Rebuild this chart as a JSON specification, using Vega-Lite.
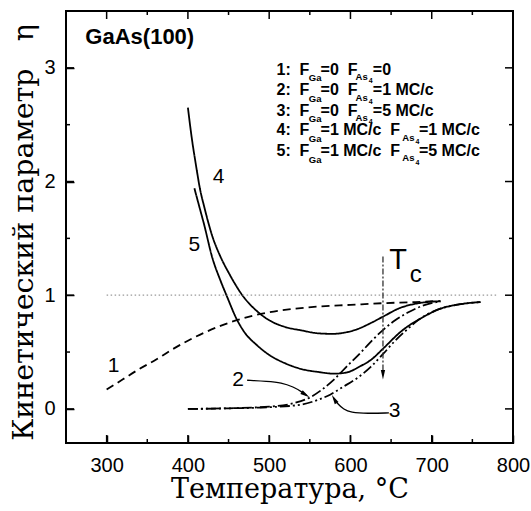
{
  "$schema": "https://vega.github.io/schema/vega-lite/v6.json",
  "autosize": {"type": "none"},
  "width": 447,
  "height": 432,
  "padding": {"left": 66, "top": 11, "right": 18, "bottom": 68},
  "background": "white",
  "config": {
    "view": {"stroke": "black", "strokeWidth": 2},
    "tick": {"color": "black", "thickness": 1.5, "opacity": 1},
    "axis": {
      "domain": false,
      "grid": false,
      "ticks": true,
      "tickSize": -8,
      "tickColor": "black",
      "tickWidth": 1.5,
      "labelFont": "Liberation Sans",
      "labelFontSize": 20,
      "labelColor": "black",
      "labelOverlap": false,
      "labelFlush": false,
      "titleFont": "DejaVu Serif",
      "titleFontSize": 28.5,
      "titleFontWeight": "normal",
      "titleColor": "black"
    }
  },
  "datasets": {
    "xmaj": [{"v": 300}, {"v": 400}, {"v": 500}, {"v": 600}, {"v": 700}],
    "xmin": [{"v": 350}, {"v": 450}, {"v": 550}, {"v": 650}, {"v": 750}],
    "ymaj": [{"v": 0}, {"v": 1}, {"v": 2}, {"v": 3}],
    "ymin": [{"v": 0.5}, {"v": 1.5}, {"v": 2.5}],
    "curves": [
      {"T": 300, "eta": 0.17, "c": "1"}, {"T": 320, "eta": 0.26, "c": "1"}, {"T": 340, "eta": 0.35, "c": "1"}, {"T": 360, "eta": 0.43, "c": "1"}, {"T": 380, "eta": 0.52, "c": "1"}, {"T": 400, "eta": 0.6, "c": "1"}, {"T": 420, "eta": 0.67, "c": "1"}, {"T": 440, "eta": 0.73, "c": "1"}, {"T": 460, "eta": 0.78, "c": "1"}, {"T": 480, "eta": 0.82, "c": "1"}, {"T": 500, "eta": 0.85, "c": "1"}, {"T": 530, "eta": 0.88, "c": "1"}, {"T": 560, "eta": 0.9, "c": "1"}, {"T": 600, "eta": 0.915, "c": "1"}, {"T": 640, "eta": 0.93, "c": "1"}, {"T": 680, "eta": 0.94, "c": "1"}, {"T": 710, "eta": 0.95, "c": "1"},
      {"T": 400, "eta": 0.0, "c": "2"}, {"T": 450, "eta": 0.005, "c": "2"}, {"T": 500, "eta": 0.02, "c": "2"}, {"T": 530, "eta": 0.05, "c": "2"}, {"T": 550, "eta": 0.1, "c": "2"}, {"T": 565, "eta": 0.17, "c": "2"}, {"T": 580, "eta": 0.26, "c": "2"}, {"T": 595, "eta": 0.37, "c": "2"}, {"T": 612, "eta": 0.49, "c": "2"}, {"T": 625, "eta": 0.59, "c": "2"}, {"T": 641, "eta": 0.7, "c": "2"}, {"T": 655, "eta": 0.78, "c": "2"}, {"T": 670, "eta": 0.845, "c": "2"}, {"T": 690, "eta": 0.91, "c": "2"}, {"T": 711, "eta": 0.946, "c": "2"},
      {"T": 400, "eta": 0.0, "c": "3"}, {"T": 450, "eta": 0.005, "c": "3"}, {"T": 500, "eta": 0.015, "c": "3"}, {"T": 540, "eta": 0.038, "c": "3"}, {"T": 560, "eta": 0.08, "c": "3"}, {"T": 575, "eta": 0.125, "c": "3"}, {"T": 590, "eta": 0.19, "c": "3"}, {"T": 608, "eta": 0.27, "c": "3"}, {"T": 625, "eta": 0.37, "c": "3"}, {"T": 641, "eta": 0.49, "c": "3"}, {"T": 655, "eta": 0.6, "c": "3"}, {"T": 670, "eta": 0.7, "c": "3"}, {"T": 685, "eta": 0.79, "c": "3"}, {"T": 703, "eta": 0.86, "c": "3"}, {"T": 720, "eta": 0.9, "c": "3"}, {"T": 740, "eta": 0.925, "c": "3"}, {"T": 760, "eta": 0.94, "c": "3"},
      {"T": 400, "eta": 2.65, "c": "4"}, {"T": 405, "eta": 2.37, "c": "4"}, {"T": 410, "eta": 2.14, "c": "4"}, {"T": 415, "eta": 1.93, "c": "4"}, {"T": 420, "eta": 1.78, "c": "4"}, {"T": 430, "eta": 1.52, "c": "4"}, {"T": 440, "eta": 1.34, "c": "4"}, {"T": 450, "eta": 1.2, "c": "4"}, {"T": 468, "eta": 0.99, "c": "4"}, {"T": 485, "eta": 0.86, "c": "4"}, {"T": 500, "eta": 0.78, "c": "4"}, {"T": 520, "eta": 0.72, "c": "4"}, {"T": 540, "eta": 0.69, "c": "4"}, {"T": 560, "eta": 0.665, "c": "4"}, {"T": 578, "eta": 0.66, "c": "4"}, {"T": 592, "eta": 0.67, "c": "4"}, {"T": 608, "eta": 0.7, "c": "4"}, {"T": 625, "eta": 0.755, "c": "4"}, {"T": 641, "eta": 0.815, "c": "4"}, {"T": 660, "eta": 0.885, "c": "4"}, {"T": 680, "eta": 0.925, "c": "4"}, {"T": 698, "eta": 0.942, "c": "4"}, {"T": 711, "eta": 0.947, "c": "4"},
      {"T": 408, "eta": 1.94, "c": "5"}, {"T": 414, "eta": 1.78, "c": "5"}, {"T": 420, "eta": 1.62, "c": "5"}, {"T": 430, "eta": 1.33, "c": "5"}, {"T": 440, "eta": 1.13, "c": "5"}, {"T": 448, "eta": 0.99, "c": "5"}, {"T": 460, "eta": 0.79, "c": "5"}, {"T": 470, "eta": 0.67, "c": "5"}, {"T": 485, "eta": 0.56, "c": "5"}, {"T": 500, "eta": 0.475, "c": "5"}, {"T": 520, "eta": 0.4, "c": "5"}, {"T": 540, "eta": 0.35, "c": "5"}, {"T": 560, "eta": 0.325, "c": "5"}, {"T": 580, "eta": 0.31, "c": "5"}, {"T": 595, "eta": 0.32, "c": "5"}, {"T": 612, "eta": 0.375, "c": "5"}, {"T": 625, "eta": 0.43, "c": "5"}, {"T": 641, "eta": 0.536, "c": "5"}, {"T": 662, "eta": 0.68, "c": "5"}, {"T": 690, "eta": 0.81, "c": "5"}, {"T": 710, "eta": 0.88, "c": "5"}, {"T": 730, "eta": 0.915, "c": "5"}, {"T": 760, "eta": 0.94, "c": "5"}
    ],
    "tc": [{"x": 640, "y": 1.34}, {"x": 640, "y": 0.32}],
    "arrows": [
      {"x": 472.9, "y": 0.252, "a": "2"}, {"x": 497.5, "y": 0.243, "a": "2"}, {"x": 515, "y": 0.232, "a": "2"}, {"x": 530, "y": 0.193, "a": "2"}, {"x": 540, "y": 0.15, "a": "2"}, {"x": 546, "y": 0.12, "a": "2"},
      {"x": 647.3, "y": -0.035, "a": "3"}, {"x": 620.7, "y": -0.041, "a": "3"}, {"x": 600, "y": -0.03, "a": "3"}, {"x": 591.9, "y": -0.006, "a": "3"}, {"x": 584, "y": 0.045, "a": "3"}, {"x": 579.5, "y": 0.095, "a": "3"}
    ],
    "heads": [
      {"x": 640, "y": 0.3, "ang": 180},
      {"x": 544.7, "y": 0.125, "ang": 123},
      {"x": 580.1, "y": 0.087, "ang": 330}
    ],
    "leg": [
      {"x": 509, "y": 2.984, "t": "1:\u00a0\u00a0F"}, {"x": 563.2, "y": 2.984, "t": "=0\u00a0\u00a0F"}, {"x": 627.5, "y": 2.984, "t": "=0"},
      {"x": 509, "y": 2.802, "t": "2:\u00a0\u00a0F"}, {"x": 563.2, "y": 2.802, "t": "=0\u00a0\u00a0F"}, {"x": 627.5, "y": 2.802, "t": "=1 MC/c"},
      {"x": 509, "y": 2.624, "t": "3:\u00a0\u00a0F"}, {"x": 563.2, "y": 2.624, "t": "=0\u00a0\u00a0F"}, {"x": 627.5, "y": 2.624, "t": "=5 MC/c"},
      {"x": 509, "y": 2.45, "t": "4:\u00a0\u00a0F"}, {"x": 563.2, "y": 2.45, "t": "=1 MC/c\u00a0\u00a0F"}, {"x": 684.2, "y": 2.45, "t": "=1 MC/c"},
      {"x": 509, "y": 2.266, "t": "5:\u00a0\u00a0F"}, {"x": 563.2, "y": 2.266, "t": "=1 MC/c\u00a0\u00a0F"}, {"x": 684.2, "y": 2.266, "t": "=5 MC/c"}
    ],
    "sub": [
      {"x": 548.8, "y": 2.911, "t": "Ga"}, {"x": 606.3, "y": 2.921, "t": "As"},
      {"x": 548.8, "y": 2.729, "t": "Ga"}, {"x": 606.3, "y": 2.739, "t": "As"},
      {"x": 548.8, "y": 2.551, "t": "Ga"}, {"x": 606.3, "y": 2.561, "t": "As"},
      {"x": 548.8, "y": 2.377, "t": "Ga"}, {"x": 663.8, "y": 2.387, "t": "As"},
      {"x": 548.8, "y": 2.193, "t": "Ga"}, {"x": 663.8, "y": 2.203, "t": "As"}
    ],
    "sub2": [
      {"x": 622.5, "y": 2.882, "t": "4"}, {"x": 622.5, "y": 2.7, "t": "4"}, {"x": 622.5, "y": 2.522, "t": "4"},
      {"x": 680, "y": 2.348, "t": "4"}, {"x": 680, "y": 2.164, "t": "4"}
    ],
    "nums": [
      {"x": 308.6, "y": 0.375, "t": "1"}, {"x": 461.6, "y": 0.258, "t": "2"}, {"x": 654.3, "y": -0.021, "t": "3"},
      {"x": 437.9, "y": 2.04, "t": "4"}, {"x": 407.8, "y": 1.44, "t": "5"}
    ]
  },
  "layer": [
    {
      "data": {"name": "curves"},
      "mark": {"type": "line", "interpolate": "monotone", "strokeWidth": 1.8, "color": "black"},
      "encoding": {
        "x": {
          "field": "T", "type": "quantitative",
          "scale": {"domain": [250, 800], "nice": false, "zero": false},
          "axis": {
            "orient": "bottom",
            "values": [300, 400, 500, 600, 700, 800],
            "labelPadding": 20,
            "titleFontSize": 27,
            "titleBaseline": "top",
            "titleY": 33,
            "title": "Температура, °C"
          }
        },
        "y": {
          "field": "eta", "type": "quantitative",
          "scale": {"domain": [-0.3, 3.5], "nice": false, "zero": false},
          "axis": {
            "orient": "left",
            "values": [0, 1, 2, 3],
            "labelExpr": "format(datum.value, 'd')",
            "labelPadding": 19,
            "titleBaseline": "alphabetic",
            "titleX": -34,
            "titleY": 221,
            "title": "Кинетический параметр\u00a0\u00a0\u00a0η"
          }
        },
        "detail": {"field": "c"},
        "strokeDash": {
          "field": "c", "type": "nominal",
          "scale": {"domain": ["1", "2", "3", "4", "5"], "range": [[8, 5], [10, 3, 2, 3], [10, 3, 2, 3, 2, 3], [1, 0], [1, 0]]},
          "legend": null
        }
      }
    },
    {
      "data": {"name": "xmaj"},
      "mark": {"type": "tick", "orient": "vertical", "size": 8, "yOffset": -4},
      "encoding": {
        "x": {"field": "v", "type": "quantitative", "axis": null},
        "y": {"datum": -0.3, "type": "quantitative", "axis": null}
      }
    },
    {
      "data": {"name": "xmin"},
      "mark": {"type": "tick", "orient": "vertical", "size": 4, "yOffset": -2},
      "encoding": {
        "x": {"field": "v", "type": "quantitative", "axis": null},
        "y": {"datum": -0.3, "type": "quantitative", "axis": null}
      }
    },
    {
      "data": {"name": "xmaj"},
      "mark": {"type": "tick", "orient": "vertical", "size": 8, "yOffset": 4},
      "encoding": {
        "x": {"field": "v", "type": "quantitative", "axis": null},
        "y": {"datum": 3.5, "type": "quantitative", "axis": null}
      }
    },
    {
      "data": {"name": "xmin"},
      "mark": {"type": "tick", "orient": "vertical", "size": 4, "yOffset": 2},
      "encoding": {
        "x": {"field": "v", "type": "quantitative", "axis": null},
        "y": {"datum": 3.5, "type": "quantitative", "axis": null}
      }
    },
    {
      "data": {"name": "ymaj"},
      "mark": {"type": "tick", "orient": "horizontal", "size": 8, "xOffset": 4},
      "encoding": {
        "y": {"field": "v", "type": "quantitative", "axis": null},
        "x": {"datum": 250, "type": "quantitative", "axis": null}
      }
    },
    {
      "data": {"name": "ymin"},
      "mark": {"type": "tick", "orient": "horizontal", "size": 4, "xOffset": 2},
      "encoding": {
        "y": {"field": "v", "type": "quantitative", "axis": null},
        "x": {"datum": 250, "type": "quantitative", "axis": null}
      }
    },
    {
      "data": {"name": "ymaj"},
      "mark": {"type": "tick", "orient": "horizontal", "size": 8, "xOffset": -4},
      "encoding": {
        "y": {"field": "v", "type": "quantitative", "axis": null},
        "x": {"datum": 800, "type": "quantitative", "axis": null}
      }
    },
    {
      "data": {"name": "ymin"},
      "mark": {"type": "tick", "orient": "horizontal", "size": 4, "xOffset": -2},
      "encoding": {
        "y": {"field": "v", "type": "quantitative", "axis": null},
        "x": {"datum": 800, "type": "quantitative", "axis": null}
      }
    },
    {
      "data": {"values": [{"x1": 300, "x2": 782, "yv": 1}]},
      "mark": {"type": "rule", "color": "#999999", "strokeDash": [1.5, 2.5], "strokeWidth": 1.2},
      "encoding": {
        "x": {"field": "x1", "type": "quantitative", "axis": null},
        "x2": {"field": "x2"},
        "y": {"field": "yv", "type": "quantitative", "axis": null}
      }
    },
    {
      "data": {"name": "tc"},
      "mark": {"type": "line", "color": "#333333", "strokeWidth": 1.3, "strokeDash": [6, 2, 2, 2]},
      "encoding": {
        "x": {"field": "x", "type": "quantitative", "axis": null},
        "y": {"field": "y", "type": "quantitative", "axis": null}
      }
    },
    {
      "data": {"name": "arrows"},
      "mark": {"type": "line", "color": "black", "strokeWidth": 1.3, "interpolate": "basis"},
      "encoding": {
        "x": {"field": "x", "type": "quantitative", "axis": null},
        "y": {"field": "y", "type": "quantitative", "axis": null},
        "detail": {"field": "a"},
        "order": {"field": "x", "type": "quantitative"}
      }
    },
    {
      "data": {"name": "heads"},
      "mark": {"type": "point", "shape": "M0,-1L0.45,1L-0.45,1Z", "filled": true, "color": "black", "size": 90, "opacity": 1},
      "encoding": {
        "x": {"field": "x", "type": "quantitative", "axis": null},
        "y": {"field": "y", "type": "quantitative", "axis": null},
        "angle": {"field": "ang", "type": "quantitative", "scale": null}
      }
    },
    {
      "data": {"name": "leg"},
      "mark": {"type": "text", "font": "Liberation Sans", "fontWeight": "bold", "fontSize": 16, "align": "left", "baseline": "middle", "color": "black"},
      "encoding": {
        "x": {"field": "x", "type": "quantitative", "axis": null},
        "y": {"field": "y", "type": "quantitative", "axis": null},
        "text": {"field": "t"}
      }
    },
    {
      "data": {"name": "sub"},
      "mark": {"type": "text", "font": "Liberation Sans", "fontWeight": "bold", "fontSize": 9.5, "align": "left", "baseline": "middle", "color": "black"},
      "encoding": {
        "x": {"field": "x", "type": "quantitative", "axis": null},
        "y": {"field": "y", "type": "quantitative", "axis": null},
        "text": {"field": "t"}
      }
    },
    {
      "data": {"name": "sub2"},
      "mark": {"type": "text", "font": "Liberation Sans", "fontWeight": "bold", "fontSize": 7, "align": "left", "baseline": "middle", "color": "black"},
      "encoding": {
        "x": {"field": "x", "type": "quantitative", "axis": null},
        "y": {"field": "y", "type": "quantitative", "axis": null},
        "text": {"field": "t"}
      }
    },
    {
      "data": {"name": "nums"},
      "mark": {"type": "text", "font": "Liberation Sans", "fontSize": 21, "align": "center", "baseline": "middle", "color": "black"},
      "encoding": {
        "x": {"field": "x", "type": "quantitative", "axis": null},
        "y": {"field": "y", "type": "quantitative", "axis": null},
        "text": {"field": "t"}
      }
    },
    {
      "data": {"values": [{"x": 273.8, "y": 3.27, "t": "GaAs(100)"}]},
      "mark": {"type": "text", "font": "Liberation Sans", "fontWeight": "bold", "fontSize": 22, "align": "left", "baseline": "middle", "color": "black"},
      "encoding": {
        "x": {"field": "x", "type": "quantitative", "axis": null},
        "y": {"field": "y", "type": "quantitative", "axis": null},
        "text": {"field": "t"}
      }
    },
    {
      "data": {"values": [{"x": 658.6, "y": 1.306, "t": "T"}]},
      "mark": {"type": "text", "font": "Liberation Sans", "fontSize": 29, "align": "center", "baseline": "middle", "color": "black"},
      "encoding": {
        "x": {"field": "x", "type": "quantitative", "axis": null},
        "y": {"field": "y", "type": "quantitative", "axis": null},
        "text": {"field": "t"}
      }
    },
    {
      "data": {"values": [{"x": 680.2, "y": 1.18, "t": "c"}]},
      "mark": {"type": "text", "font": "Liberation Sans", "fontSize": 24, "align": "center", "baseline": "middle", "color": "black"},
      "encoding": {
        "x": {"field": "x", "type": "quantitative", "axis": null},
        "y": {"field": "y", "type": "quantitative", "axis": null},
        "text": {"field": "t"}
      }
    }
  ],
  "resolve": {"axis": {"x": "independent", "y": "independent"}}
}
